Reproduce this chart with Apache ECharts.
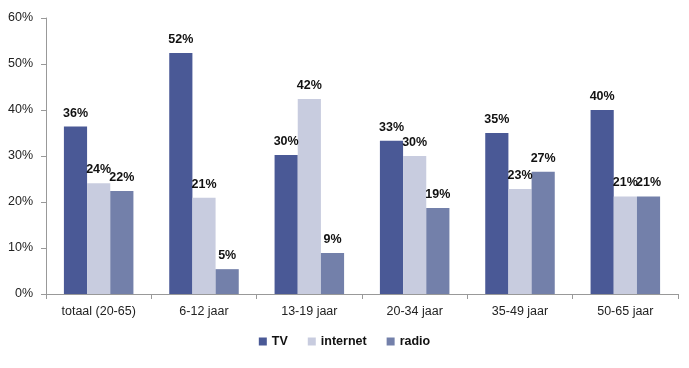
<!DOCTYPE html>
<html><head><meta charset="utf-8">
<script src="https://cdn.jsdelivr.net/npm/echarts@6/dist/echarts.min.js"></script>
<style>html,body{margin:0;padding:0;background:#fff}#c{width:689px;height:368px}</style>
</head><body><div id="c"></div>
<script>
const categories = ['totaal (20-65)', '6-12 jaar', '13-19 jaar', '20-34 jaar', '35-49 jaar', '50-65 jaar'];
const tv = [36.4, 52.4, 30.2, 33.3, 35.0, 40.0];
const internet = [24.1, 20.9, 42.4, 30.0, 22.8, 21.2];
const radio = [22.4, 5.4, 8.9, 18.7, 26.6, 21.2];
const yTicks = [0, 10, 20, 30, 40, 50, 60];

const font = 'Liberation Sans, Arial, sans-serif';
const lbl = {
  show: true, position: 'top', distance: 7, color: '#111', fontWeight: 'bold',
  fontSize: 12.5, fontFamily: font,
  formatter: p => Math.round(p.value) + '%'
};
const chart = echarts.init(document.getElementById('c'));
chart.setOption({
  animation: false,
  textStyle: { fontFamily: font },
  grid: { left: 46, right: 11, top: 18, bottom: 74, containLabel: false },
  legend: {
    bottom: 15, left: 'center', itemWidth: 8, itemHeight: 8, itemGap: 20,
    icon: 'rect',
    textStyle: { fontWeight: 'bold', fontSize: 12.5, color: '#111', fontFamily: font },
    data: ['TV', 'internet', 'radio']
  },
  xAxis: {
    type: 'category', data: categories,
    axisLine: { lineStyle: { color: '#999' } },
    axisTick: { show: true, alignWithLabel: false, length: 5, lineStyle: { color: '#999' } },
    axisLabel: { color: '#222', fontSize: 12.5, margin: 11, fontFamily: font }
  },
  yAxis: {
    type: 'value', min: yTicks[0], max: yTicks[yTicks.length - 1], interval: 10,
    axisLine: { show: true, lineStyle: { color: '#999' } },
    axisTick: { show: true, length: 5, lineStyle: { color: '#999' } },
    splitLine: { show: false },
    axisLabel: { color: '#222', fontSize: 12.5, margin: 13, formatter: v => v + '%', fontFamily: font }
  },
  series: [
    { name: 'TV', type: 'bar', data: tv, barGap: '0%', barCategoryGap: '34%', itemStyle: { color: '#4a5996' }, label: lbl },
    { name: 'internet', type: 'bar', data: internet, barGap: '0%', barCategoryGap: '34%', itemStyle: { color: '#c8ccdf' }, label: lbl },
    { name: 'radio', type: 'bar', data: radio, barGap: '0%', barCategoryGap: '34%', itemStyle: { color: '#7380aa' }, label: lbl }
  ]
});
</script></body></html>
